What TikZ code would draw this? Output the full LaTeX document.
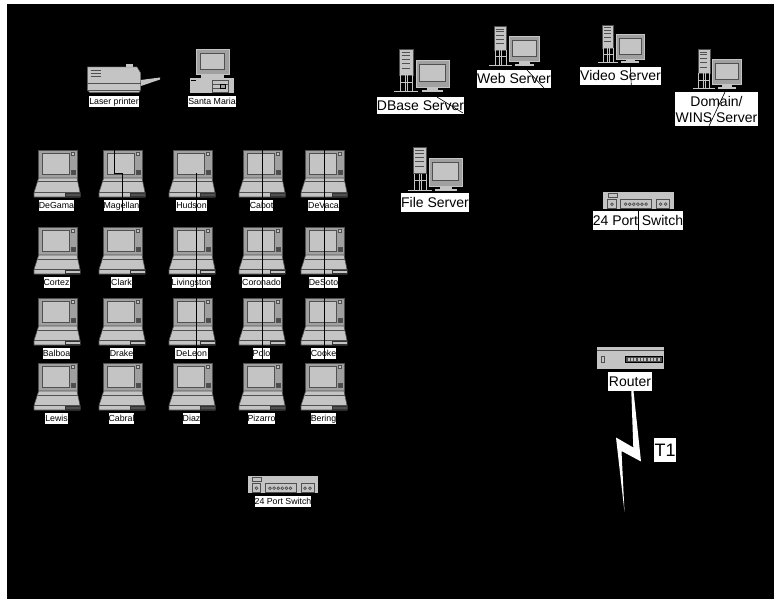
\documentclass[tikz,border=0pt]{standalone}
\usepackage{fontspec}
\setmainfont{Liberation Sans}
\definecolor{devlight}{HTML}{C4C4C4}
\definecolor{devmid}{HTML}{A0A0A0}
\definecolor{devdark}{HTML}{505050}
\tikzset{
  smalllabel/.style={fill=white, text=black, inner xsep=0pt, inner ysep=0pt, text height=7.2pt, text depth=1.2pt, minimum height=11pt, font=\fontsize{8.8}{9}\selectfont},
  biglabel/.style={fill=white, text=black, inner sep=0pt, text height=11.4pt, text depth=2pt, font=\fontsize{14}{16}\selectfont},
  wire/.style={draw=black, line width=0.8pt},
  thinwire/.style={draw=black, line width=0.6pt},
  pics/laptop/.style={code={
    \draw[fill=devmid, draw=devdark, line width=0.6pt] (-18.3,0) rectangle (20,28);
    \draw[fill=devlight, draw=devdark, line width=0.7pt] (-15,3.7) rectangle (12,24);
    \draw[fill=devlight, draw=devdark, line width=0.6pt] (14.5,2) rectangle (17.5,5);
    \draw[fill=black!70, draw=devdark, line width=0.6pt] (14.5,20) rectangle (18,24);
    \draw[fill=devlight, draw=devdark, line width=0.6pt] (-18.3,28) -- (20,28) -- (23,42.5) -- (23,47) -- (-23,47) -- (-23,42.5) -- cycle;
    \draw[devdark, line width=1pt] (-19,32) -- (20.5,32);
    \draw[devdark, line width=0.6pt] (-23,42.5) -- (23,42.5);
    \draw[fill=#1, draw=black!80, line width=0.6pt] (8,43.5) rectangle (23,46.5);
  }},
  pics/server/.style={code={
    \fill[devlight] (5,0) rectangle (18.7,26);
    \draw[devdark] (5,0) rectangle (18.7,26);
    \foreach \s in {3,6,10,14,19} {
      \draw[devdark, line width=0.9pt] (7.5,\s) -- (16,\s);
    }
    \draw[devlight] (6,26) -- (6,42) (11,26) -- (11,42) (13,26) -- (13,42) (18,26) -- (18,42);
    \draw[devlight] (6,33) -- (18,33);
    \draw[devlight, line width=1.2pt] (0,42.5) -- (24.3,42.5);
    \draw[fill=devmid, draw=devlight] (21.7,10.7) rectangle (54.7,38);
    \draw[fill=devlight, draw=devdark, line width=0.8pt] (25,15) rectangle (51,32.6);
    \fill[devlight] (32.7,38) rectangle (44,41);
    \fill[devlight] (27.7,41) rectangle (49,43);
  }},
  pics/switchbox/.style={code={
    \fill[devlight] (0,0) rectangle (70.4,17);
    \draw[devdark, line width=0.7pt] (4.7,2) rectangle (13.7,6);
    \draw[devdark, line width=0.7pt] (4.3,8) rectangle (13,17);
    \draw[devdark, line width=0.7pt] (17.3,8) rectangle (48.3,17);
    \draw[devdark, line width=0.7pt] (53.3,8) rectangle (66.3,17);
    \draw[devdark, line width=0.7pt] (8.7,12.5) circle (1.4);
    \foreach \c in {22.3,26.4,30.5,34.6,38.7,42.8} {
      \draw[devdark, line width=0.7pt] (\c,12.5) circle (1.4);
    }
    \draw[devdark, line width=0.7pt] (57.3,12.5) circle (1.4);
    \draw[devdark, line width=0.7pt] (62.3,12.5) circle (1.4);
  }},
}
\begin{document}
\begin{tikzpicture}[x=1pt, y=-1pt]
    \useasboundingbox (0,0) rectangle (774,599);
    \fill[white] (0,0) rectangle (774,599);
    \fill[black] (7,4) rectangle (774,599);
    % Printer
    \draw[fill=devlight, draw=devdark] (87.3,67) -- (137,67) -- (140.7,73) -- (140.7,90) -- (139,92.7) -- (90,92.7) -- (87.3,90) -- cycle;
    \fill[devlight] (126,64.5) rectangle (133,67);
    \fill[devlight] (140.7,80) -- (160,77.5) -- (160,79.5) -- (141,86) -- cycle;
    \draw[devdark] (87.3,83.3) -- (140.7,83.3);
    \draw[devdark] (87.3,90) -- (140.7,90);
    \foreach \v in {70.5,73.5,76.5} {
        \draw[devdark, line width=1pt] (90.7,\v) -- (100.7,\v);
    }
    % Desktop PC
    \draw[fill=devmid, draw=devlight] (195.7,49.3) rectangle (228.7,74.7);
    \draw[fill=devlight, draw=devdark, line width=0.8pt] (200.5,53.5) rectangle (224.5,69.5);
    \fill[devlight] (201,74.7) rectangle (224,78.3);
    \fill[devlight] (190,78.3) rectangle (234,92.7);
    \draw[black] (191,80) -- (196,80);
    \draw[devdark] (212.3,80) rectangle (227.7,92);
    \draw[devdark] (212.3,84) -- (227.7,84) (212.3,88) -- (222,88);
    \draw[fill=devmid, draw=black] (220,84) rectangle (225,88);
    \node[smalllabel, minimum width=44pt] (laser) at (114,102) {Laser printer};
    \node[smalllabel, minimum width=42pt] (santamaria) at (212,102) {Santa Maria};
    % Laptops
    \foreach \lname/\ltext/\x/\y/\w/\slot in {
        degama/DeGama/57/150/32/devdark, magellan/Magellan/122/150/32/devdark,
        hudson/Hudson/192/150/28/devdark, cabot/Cabot/262/150/21/devdark,
        devaca/DeVaca/324/150/29/devdark,
        cortez/Cortez/57/227/26/devlight, clark/Clark/122/227/21/devlight,
        livingston/Livingston/192/227/35/devlight, coronado/Coronado/262/227/34/devlight,
        desoto/DeSoto/324/227/26/devlight,
        balboa/Balboa/57/298/24/devlight, drake/Drake/122/298/22/devlight,
        deleon/DeLeon/192/298/33/devlight, polo/Polo/262/298/17/devlight,
        cooke/Cooke/324/298/23/devlight,
        lewis/Lewis/57/363/21/devdark, cabral/Cabral/122/363/24/devdark,
        diaz/Diaz/192/363/17/devdark, pizarro/Pizarro/262/363/26/devdark,
        bering/Bering/324/363/24/devdark} {
        \pic at (\x,\y) {laptop=\slot};
        \node[smalllabel, minimum width=\w pt] (\lname) at (\x-0.5,\y+55) {\ltext};
    }
    % Servers
    \pic[xscale=1.00, yscale=1.00] at (394,49.3) {server};
    \pic[xscale=0.92, yscale=0.92] at (489.3,26.3) {server};
    \pic[xscale=0.85, yscale=0.89] at (597.7,25) {server};
    \pic[xscale=0.88, yscale=0.93] at (693.3,49.3) {server};
    \pic[xscale=1.00, yscale=1.02] at (407.7,147) {server};
    \node[biglabel, minimum width=87pt, minimum height=17pt] (dbase) at (420.5,105.5) {DBase Server};
    \node[biglabel, minimum width=74pt, minimum height=18pt] (web) at (514,79) {Web Server};
    \node[biglabel, minimum width=81pt, minimum height=18pt] (video) at (620.5,76) {Video Server};
    \node[fill=white, text=black, inner sep=0pt, font=\fontsize{14}{16}\selectfont, minimum width=83pt, minimum height=34pt, align=center] (domain) at (716.5,109) {Domain/\\WINS Server};
    \node[biglabel, minimum width=68pt, minimum height=19pt] (file) at (435,202.5) {File Server};
    % Switches
    \pic at (603.3,191.7) {switchbox};
    \node[biglabel, minimum width=90pt, minimum height=19pt] (switchtop) at (638,220.5) {24 Port Switch};
    \pic at (247.7,475.7) {switchbox};
    \node[smalllabel, minimum width=52pt] (switchlow) at (283,501.5) {24 Port Switch};
    % Router
    \fill[devlight] (597,347.3) rectangle (664,369.3);
    \draw[devdark, line width=1pt] (597,350) -- (664,350);
    \draw[devdark] (600.7,356) rectangle (604,362);
    \draw[fill=devdark, draw=black] (625.3,356) rectangle (661.7,362);
    \foreach \p in {628,631,634,638,641,644,648,651,654,658} {
        \fill[devlight] (\p,357.5) rectangle (\p+1.5,360.5);
    }
    \node[biglabel, minimum width=44pt, minimum height=19pt] (router) at (630,381.5) {Router};
    % T1 link
    \fill[white] (631.3,391) -- (633.5,391) -- (641,461.5) -- (621.5,451) -- (624.5,512) -- (616,437.5) -- (633.3,447.5) -- cycle;
    \node[fill=white, text=black, inner sep=0pt, minimum width=22pt, minimum height=24pt, font=\fontsize{18}{20}\selectfont] (tone) at (665,450) {T1};
    % Cables
    \coordinate (printerdrop) at (114,173);
    \coordinate (printerhub) at (122,173);
    \draw[wire] (laser.south -| printerdrop) -- (printerdrop) -- (printerhub) -- (magellan.south -| printerhub);
    \coordinate (hudsonhub) at (196,173);
    \draw[wire] (hudsonhub) -- (deleon.south -| hudsonhub);
    \coordinate (cabothub) at (262,150);
    \draw[wire] (cabothub) -- (polo.south -| cabothub);
    \coordinate (devacahub) at (324,150);
    \draw[wire] (devacahub) -- (cooke.south -| devacahub);
    \coordinate (dbasea) at (437,97);
    \coordinate (dbaseb) at (463,113);
    \draw[thinwire] (dbasea) -- (dbaseb);
    \coordinate (weba) at (527,70);
    \coordinate (webb) at (544,88);
    \draw[thinwire] (weba) -- (webb);
    \coordinate (videoa) at (630.3,67);
    \coordinate (videob) at (631.3,85);
    \draw[thinwire] (videoa) -- (videob);
    \coordinate (domaina) at (725,92);
    \coordinate (domainb) at (709,126);
    \draw[thinwire] (domaina) -- (domainb);
    \coordinate (switcha) at (638,211);
    \draw[wire] (switcha) -- (switchtop.south -| switcha);
\end{tikzpicture}
\end{document}
